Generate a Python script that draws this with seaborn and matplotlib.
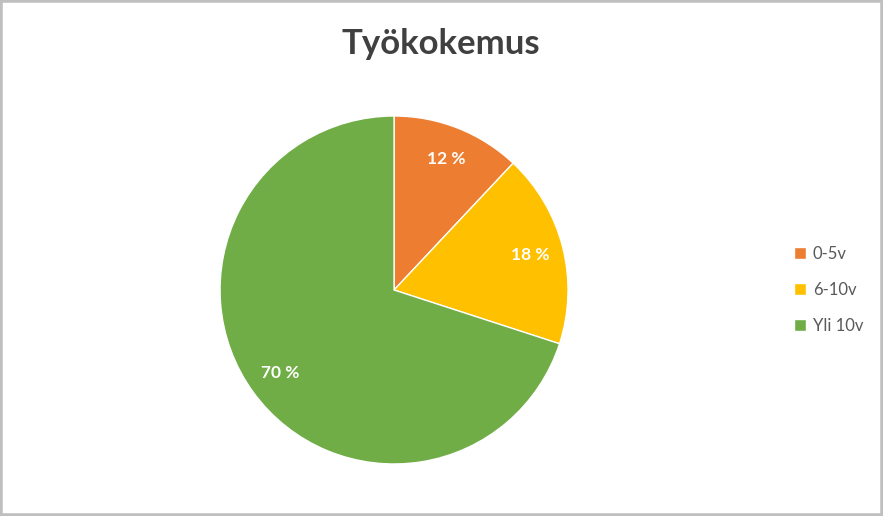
import matplotlib
matplotlib.use("Agg")
import matplotlib.pyplot as plt
import seaborn as sns
from matplotlib.patches import Rectangle

# data
categories = ["0-5v", "6-10v", "Yli 10v"]
shares = [12, 18, 70]
colors = ["#ED7D31", "#FFC000", "#70AD47"]
title = "Työkokemus"

sns.set_theme(style="white")
plt.rcParams["font.family"] = ["Lato", "DejaVu Sans"]

fig = plt.figure(figsize=(8.83, 5.16), dpi=100)
ax = fig.add_axes([0.2492, 0.1008, 0.3941, 0.6744])

wedges, texts, autotexts = ax.pie(
    shares,
    colors=colors,
    startangle=90,
    counterclock=False,
    autopct=lambda p: f"{p:.0f} %",
    pctdistance=0.81,
    wedgeprops=dict(edgecolor="white", linewidth=1),
    textprops=dict(color="white", fontsize=12.5, fontweight="bold"),
)
ax.set_xlim(-1, 1)
ax.set_ylim(-1, 1)
ax.set_aspect("equal")

fig.text(0.4995, 0.915, title, ha="center", va="center",
         fontsize=25, fontweight="bold", color="#404040")

fig.legend(wedges, categories, loc="center left", bbox_to_anchor=(0.892, 0.438),
           frameon=False, fontsize=12, labelcolor="#595959",
           handlelength=0.7, handleheight=0.7, handletextpad=0.4,
           labelspacing=1.2, borderaxespad=0)

# outer border like the original chart frame
fig.patches.append(Rectangle((0, 0), 1, 1, transform=fig.transFigure,
                             fill=False, edgecolor="#BFBFBF", linewidth=4))

fig.savefig("out.png", dpi=100)
